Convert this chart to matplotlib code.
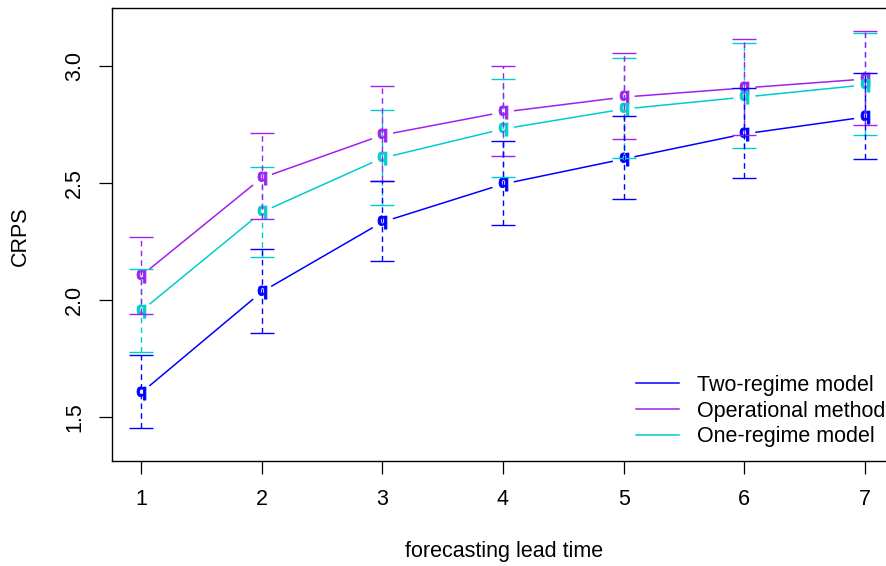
import numpy as np
import matplotlib
matplotlib.use("Agg")
import matplotlib.pyplot as plt

plt.rcParams['font.family'] = ['Liberation Sans', 'DejaVu Sans']
plt.rcParams['mathtext.fontset'] = 'custom'
plt.rcParams['mathtext.bf'] = 'Liberation Sans:bold'
plt.rcParams['mathtext.rm'] = 'Liberation Sans'

# lead times
lead = [1, 2, 3, 4, 5, 6, 7]

# mean CRPS and bar ends
two_mean = [1.604, 2.035, 2.333, 2.495, 2.602, 2.709, 2.781]
two_hi = [1.766, 2.218, 2.508, 2.679, 2.786, 2.905, 2.969]
two_lo = [1.454, 1.859, 2.167, 2.320, 2.431, 2.521, 2.602]

op_mean = [2.103, 2.521, 2.704, 2.802, 2.866, 2.905, 2.943]
op_hi = [2.269, 2.713, 2.913, 2.999, 3.054, 3.114, 3.148]
op_lo = [1.941, 2.346, 2.508, 2.615, 2.687, 2.704, 2.747]

one_mean = [1.953, 2.375, 2.606, 2.730, 2.815, 2.866, 2.918]
one_hi = [2.133, 2.567, 2.811, 2.943, 3.033, 3.097, 3.140]
one_lo = [1.779, 2.184, 2.406, 2.525, 2.606, 2.649, 2.704]

labels = ['Two-regime model', 'Operational method', 'One-regime model']
colors = ['#0000FF', '#A020F0', '#00CDCD']

FS = 15.5
W, H = 887, 566
fig = plt.figure(figsize=(W / 100, H / 100), dpi=100)
ax = fig.add_axes([112 / W, (H - 461) / H, (894 - 112) / W, (461 - 8) / H])
ax.set_xlim(0.76, 7.24)
ax.set_ylim(1.314, 3.246)


def broken_line(x, y, col, gap=11):
    # R type="b": segments stop short of the points
    pts = ax.transData.transform(np.column_stack([x, y]))
    inv = ax.transData.inverted()
    for p, q in zip(pts[:-1], pts[1:]):
        d = q - p
        L = np.hypot(*d)
        u = d / L
        a = inv.transform(p + u * gap)
        b = inv.transform(q - u * gap)
        ax.plot([a[0], b[0]], [a[1], b[1]], color=col, lw=1.1, solid_capstyle='butt')


series = [(two_mean, two_lo, two_hi), (op_mean, op_lo, op_hi), (one_mean, one_lo, one_hi)]
for (m, lo, hi), col in zip(series, colors):
    broken_line(lead, m, col)
    ax.plot(lead, m, linestyle='none', marker=r'$\mathbf{q}$', markersize=9.5,
            color=col, markeredgewidth=0.6)

# error bars, drawn in reverse so blue sits on top
for (m, lo, hi), col in reversed(list(zip(series, colors))):
    ax.vlines(lead, lo, hi, colors=col, linestyles=(0, (4, 3)), lw=1.0)
    ax.hlines(lo, np.array(lead) - 0.1, np.array(lead) + 0.1, colors=col, lw=1.0)
    ax.hlines(hi, np.array(lead) - 0.1, np.array(lead) + 0.1, colors=col, lw=1.0)

for s in ax.spines.values():
    s.set_linewidth(1.0)
    s.set_color('black')

ax.set_xticks(lead)
ax.set_yticks([1.5, 2.0, 2.5, 3.0])
ax.set_yticklabels(['1.5', '2.0', '2.5', '3.0'], rotation=90, va='center')
ax.tick_params(axis='both', direction='out', length=9.4, width=0.9, labelsize=FS)
ax.tick_params(axis='x', pad=10.5)
ax.tick_params(axis='y', pad=10)

fig.text(20 / W, 1 - 236 / H, 'CRPS', rotation=90, ha='center', va='center', fontsize=FS)
fig.text(504 / W, 1 - 551 / H, 'forecasting lead time', ha='center', va='center', fontsize=FS)

handles = [plt.Line2D([], [], color=c, lw=1.1) for c in colors]
ax.legend(handles, labels, loc='upper left', bbox_to_anchor=(636 / W, 1 - 375 / H),
          bbox_transform=fig.transFigure, frameon=False, fontsize=FS,
          handlelength=2.0, handletextpad=0.85, labelspacing=0.22,
          borderpad=0, borderaxespad=0)

fig.savefig('out.png', dpi=100)
